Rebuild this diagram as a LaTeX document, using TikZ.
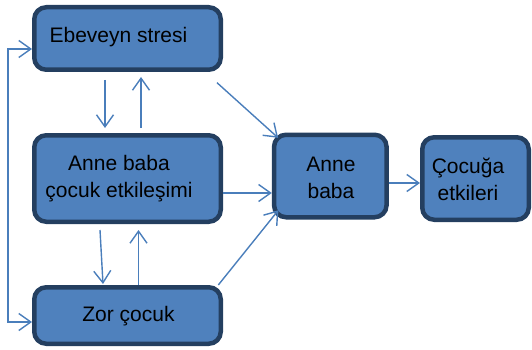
\documentclass[tikz,border=0pt]{standalone}
\usepackage{fontspec}
\setmainfont{Liberation Sans}
\usetikzlibrary{arrows.meta}
\definecolor{boxfill}{HTML}{4F81BD}
\definecolor{boxline}{HTML}{243F60}
\definecolor{arrowblue}{HTML}{4A7EBB}

\begin{document}
\begin{tikzpicture}[
	x=1pt,
	y=-1pt,
	box/.style={draw=boxline, fill=boxfill, line width=4.5pt, rounded corners=12pt, inner sep=0pt},
	txt/.style={anchor=base, align=center, font=\fontsize{21}{26.5}\selectfont},
	arr/.style={draw=arrowblue, line width=1.4pt, -{Straight Barb[length=12pt,width=17pt]}},
	arrs/.style={arr, {Straight Barb[length=12pt,width=17pt]}-{Straight Barb[length=12pt,width=17pt]}}
]
	\useasboundingbox (0,0) rectangle (532,350);

	\node[box, minimum width=186.5, minimum height=62.5] (ebev) at (127.5,38.5) {};
	\node[box, minimum width=186.5, minimum height=86.5] (etk) at (127.5,178.5) {};
	\node[box, minimum width=186.5, minimum height=56.5] (zor) at (127.5,315.5) {};
	\node[box, minimum width=112.5, minimum height=82.5] (anne) at (330.3,176) {};
	\node[box, minimum width=106.5, minimum height=82.5] (cocuk) at (475.5,178.5) {};

	% base = son satir
	\node[txt] (ebevt) at ([shift={(-9,4.5)}]ebev.center) {Ebeveyn stresi};
	\node[txt] (etkt) at ([shift={(-8.5,18.5)}]etk.center) {Anne baba\\çocuk etkileşimi};
	\node[txt] (zort) at ([shift={(1,6)}]zor.center) {Zor çocuk};
	\node[txt] (annet) at ([shift={(0.7,22)}]anne.center) {Anne\\baba};
	\node[txt] (cocukt) at ([shift={(-7.5,21.5)}]cocuk.center) {Çocuğa\\etkileri};

	% geri besleme
	\coordinate (fbtop) at (8,49);
	\coordinate (fbbot) at (8,322);
	\draw[arrs] (ebev.west |- fbtop) -- (fbtop) -- (fbbot) -- (zor.west |- fbbot);

	\draw[arr] ([shift={(-22.5,8)}]ebev.south) -- ([shift={(-22.5,-5)}]etk.north);
	\draw[arr] ([shift={(13.5,-5)}]etk.north) -- ([shift={(13.5,5)}]ebev.south);
	\draw[arr] ([shift={(-27.5,6)}]etk.south) -- ([shift={(-24.5,-1)}]zor.north);
	\draw[arr] ([shift={(11,0)}]zor.north) -- ([shift={(11,6)}]etk.south);

	\draw[arr] ([shift={(-6,10.7)}]ebev.south east) -- ([shift={(6.3,5.3)}]anne.north west);
	\draw[arr] ([shift={(0,14.5)}]etk.east) -- ([shift={(0,17)}]anne.west);
	\draw[arr] ([shift={(-4.7,0)}]zor.north east) -- ([shift={(6.6,-9.3)}]anne.south west);
	\draw[arr] ([shift={(0,7)}]anne.east) -- ([shift={(0,4.5)}]cocuk.west);
\end{tikzpicture}
\end{document}
